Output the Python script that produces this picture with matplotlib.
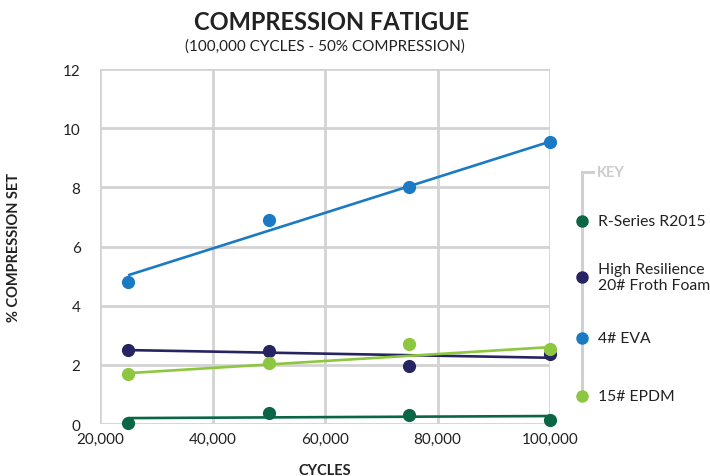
import matplotlib
matplotlib.use("Agg")
import matplotlib.pyplot as plt
from matplotlib.lines import Line2D

plt.rcParams['font.family'] = ['Lato', 'DejaVu Sans']

cycles = [25000, 50000, 75000, 100000]
series_names = ["R-Series R2015", "High Resilience\n20# Froth Foam", "4# EVA", "15# EPDM"]
r_series = [0.05, 0.37, 0.30, 0.13]
high_res = [2.50, 2.48, 1.95, 2.38]
eva = [4.80, 6.90, 8.00, 9.55]
epdm = [1.70, 2.05, 2.70, 2.55]
trend_x = [25000, 100000]
r_trend = [0.20, 0.27]
hr_trend = [2.50, 2.24]
eva_trend = [5.03, 9.55]
epdm_trend = [1.72, 2.60]
colors = ["#0b6646", "#272462", "#1a7ac4", "#8dc63f"]
x_ticks = [20000, 40000, 60000, 80000, 100000]
x_tick_labels = ["20,000", "40,000", "60,000", "80,000", "100,000"]
y_ticks = [0, 2, 4, 6, 8, 10, 12]

fig = plt.figure(figsize=(7.10, 4.77), dpi=100)
ax = fig.add_axes([0.1408, 0.109, 0.634, 0.744])

values = [r_series, high_res, eva, epdm]
trends = [r_trend, hr_trend, eva_trend, epdm_trend]
for vals, tr, c in zip(values, trends, colors):
    ax.plot(trend_x, tr, color=c, lw=1.9, zorder=3, solid_capstyle='butt')
    ax.plot(cycles, vals, 'o', color=c, ms=9.5, zorder=4, clip_on=False, mec='none')

ax.set_xlim(20000, 100000)
ax.set_ylim(0, 12)
ax.set_xticks(x_ticks)
ax.set_xticklabels(x_tick_labels)
ax.set_yticks(y_ticks)
ax.grid(True, color='#d3d3d3', lw=2)
ax.set_axisbelow(True)
for s in ax.spines.values():
    s.set_visible(False)
ax.tick_params(length=0, labelsize=11, colors='#222222', pad=6)
ax.tick_params(axis='y', pad=14)
ax.set_xlabel("CYCLES", fontsize=10.5, fontweight='bold', labelpad=12, color='#222222')
ax.set_ylabel("% COMPRESSION SET", fontsize=10.5, fontweight='bold', labelpad=30, color='#222222')

fig.text(0.467, 0.952, "COMPRESSION FATIGUE", ha='center', va='center', fontsize=17,
         fontweight='bold', color='#222222')
fig.text(0.458, 0.902, "(100,000 CYCLES - 50% COMPRESSION)", ha='center', va='center',
         fontsize=11, color='#222222')

# custom key
W, H = 710, 477
def fx(px): return px / W
def fy(py): return 1 - py / H
kx = 582
fig.add_artist(Line2D([fx(kx), fx(kx)], [fy(173), fy(397)], color='#d0d0d0', lw=2.2, zorder=1))
fig.add_artist(Line2D([fx(kx), fx(593)], [fy(173), fy(173)], color='#d0d0d0', lw=2.2, zorder=1))
fig.text(fx(597), fy(173), "KEY", ha='left', va='center', fontsize=10.5, fontweight='bold', color='#cccccc')
key_y = [222, 278, 339, 397]
for name, c, yy in zip(series_names, colors, key_y):
    fig.add_artist(Line2D([fx(kx)], [fy(yy)], marker='o', color=c, ms=9, mec='none', zorder=2))
    fig.text(fx(598), fy(yy), name, ha='left', va='center', fontsize=11.3, color='#222222',
             linespacing=1.15)

fig.savefig("out.png", dpi=100)
